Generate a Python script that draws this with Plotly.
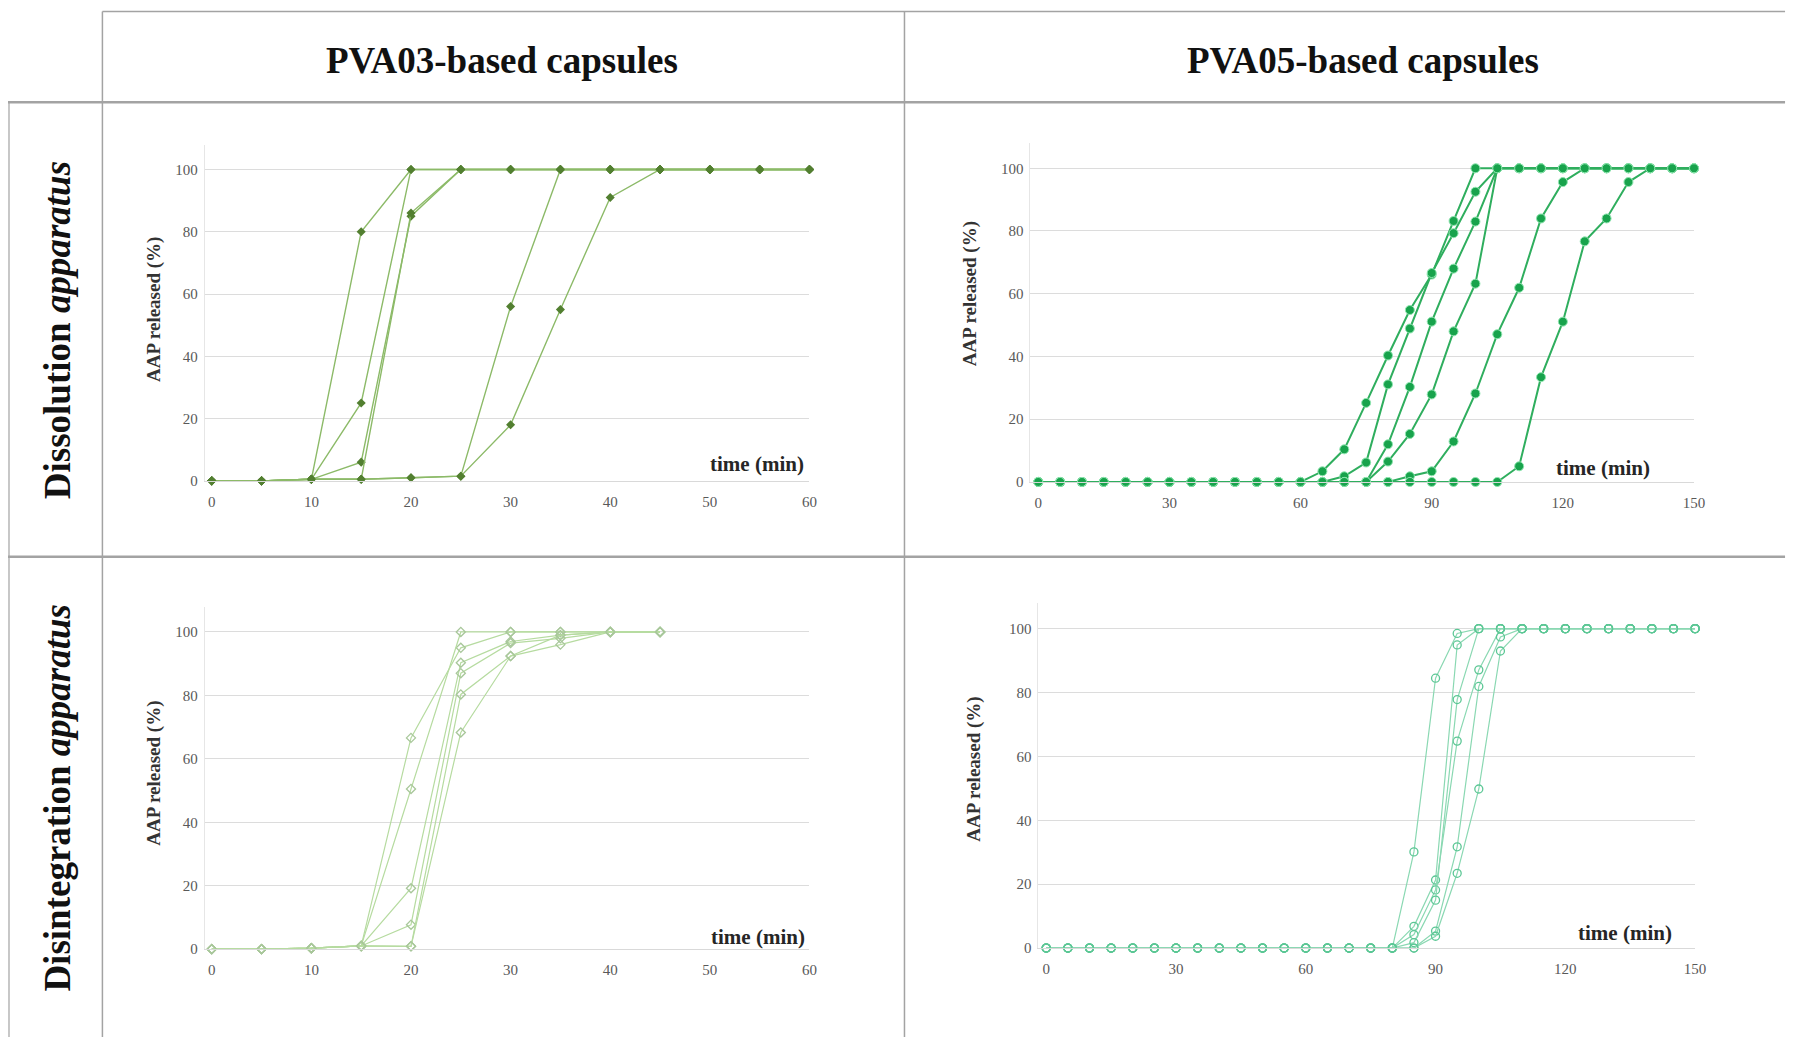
import plotly.graph_objects as go

W, H = 1796, 1045
OFF = 8  # page body margin in the browser

# ---------------- DATA ----------------
t_p03 = [0, 5, 10, 15, 20, 25, 30, 35, 40, 45, 50, 55, 60]
diss_p03 = [
    [0, 0, 0.5, 80, 100, 100, 100, 100, 100, 100, 100, 100, 100],
    [0, 0, 0.5, 25, 100, 100, 100, 100, 100, 100, 100, 100, 100],
    [0, 0, 0.5, 6, 85, 100, 100, 100, 100, 100, 100, 100, 100],
    [0, 0, 0.5, 0.5, 86, 100, 100, 100, 100, 100, 100, 100, 100],
    [0, 0, 0.5, 0.5, 1, 1.5, 56, 100, 100, 100, 100, 100, 100],
    [0, 0, 0.5, 0.5, 1, 1.5, 18, 55, 91, 100, 100, 100, 100],
]

t_p05 = [0, 5, 10, 15, 20, 25, 30, 35, 40, 45, 50, 55, 60, 65, 70, 75, 80, 85, 90,
         95, 100, 105, 110, 115, 120, 125, 130, 135, 140, 145, 150]
diss_p05 = [
    [0, 0, 0, 0, 0, 0, 0, 0, 0, 0, 0, 0, 0, 3.4, 10.4, 25.2, 40.3, 54.8, 66.1,
     83.2, 100, 100, 100, 100, 100, 100, 100, 100, 100, 100, 100],
    [0, 0, 0, 0, 0, 0, 0, 0, 0, 0, 0, 0, 0, 0, 1.8, 6.2, 31.1, 48.9, 66.6,
     79.3, 92.5, 100, 100, 100, 100, 100, 100, 100, 100, 100, 100],
    [0, 0, 0, 0, 0, 0, 0, 0, 0, 0, 0, 0, 0, 0, 0, 0, 12.0, 30.3, 51.1,
     68.0, 83.0, 100, 100, 100, 100, 100, 100, 100, 100, 100, 100],
    [0, 0, 0, 0, 0, 0, 0, 0, 0, 0, 0, 0, 0, 0, 0, 0, 6.5, 15.3, 27.9,
     48.0, 63.2, 100, 100, 100, 100, 100, 100, 100, 100, 100, 100],
    [0, 0, 0, 0, 0, 0, 0, 0, 0, 0, 0, 0, 0, 0, 0, 0, 0, 1.8, 3.4,
     12.9, 28.2, 47.1, 61.9, 84.0, 95.6, 100, 100, 100, 100, 100, 100],
    [0, 0, 0, 0, 0, 0, 0, 0, 0, 0, 0, 0, 0, 0, 0, 0, 0, 0, 0,
     0, 0, 0, 5.0, 33.4, 51.1, 76.7, 84.0, 95.6, 100, 100, 100],
]

t_p03_dis = [0, 5, 10, 15, 20, 25, 30, 35, 40, 45]
disi_p03 = [
    [0, 0, 0.3, 1, 66.6, 95, 100, 100, 100, 100],
    [0, 0, 0.3, 1, 50.5, 100, 100, 100, 100, 100],
    [0, 0, 0.3, 1, 19.2, 90.3, 97, 99, 100, 100],
    [0, 0, 0.3, 1, 7.7, 87, 96.5, 98, 100, 100],
    [0, 0, 0.3, 1, 0.9, 80.3, 92.4, 96, 100, 100],
    [0, 0, 0.3, 1, 0.9, 68.3, 92.4, 99, 100, 100],
]

disi_p05 = [
    [0, 0, 0, 0, 0, 0, 0, 0, 0, 0, 0, 0, 0, 0, 0, 0, 0, 30.1, 84.5,
     98.5, 100, 100, 100, 100, 100, 100, 100, 100, 100, 100, 100],
    [0, 0, 0, 0, 0, 0, 0, 0, 0, 0, 0, 0, 0, 0, 0, 0, 0, 6.8, 21.3,
     94.9, 100, 100, 100, 100, 100, 100, 100, 100, 100, 100, 100],
    [0, 0, 0, 0, 0, 0, 0, 0, 0, 0, 0, 0, 0, 0, 0, 0, 0, 4.2, 18.2,
     64.8, 87.1, 100, 100, 100, 100, 100, 100, 100, 100, 100, 100],
    [0, 0, 0, 0, 0, 0, 0, 0, 0, 0, 0, 0, 0, 0, 0, 0, 0, 1.7, 15.0,
     77.8, 100, 100, 100, 100, 100, 100, 100, 100, 100, 100, 100],
    [0, 0, 0, 0, 0, 0, 0, 0, 0, 0, 0, 0, 0, 0, 0, 0, 0, 0, 5.3,
     31.7, 81.9, 97.4, 100, 100, 100, 100, 100, 100, 100, 100, 100],
    [0, 0, 0, 0, 0, 0, 0, 0, 0, 0, 0, 0, 0, 0, 0, 0, 0, 0, 3.7,
     23.4, 49.8, 93.0, 100, 100, 100, 100, 100, 100, 100, 100, 100],
]

col_titles = ["PVA03-based capsules", "PVA05-based capsules"]
row_titles = ["<b>Dissolution <i>apparatus</i></b>", "<b>Disintegration <i>apparatus</i></b>"]
y_title = "AAP released (%)"
x_title = "time (min)"
x_ticks_p03 = [0, 10, 20, 30, 40, 50, 60]
x_ticks_p05 = [0, 30, 60, 90, 120, 150]
y_ticks = [0, 20, 40, 60, 80, 100]

# ---------------- LAYOUT HELPERS ----------------
def px(x):
    return (x - OFF) / W

def py(y):
    return 1 - (y - OFF) / H

FONT = "Liberation Serif"
fig = go.Figure()

panels = [
    dict(i=1, xr=[-0.7, 60], xd=(206, 814.4), yd=(484.5, 145.6), xt=x_ticks_p03,
         t=t_p03, data=diss_p03, sym="diamond", msize=7, mcol="#527f30",
         lcol="#8cba68", lw=1.4, mline=None),
    dict(i=2, xr=[-1.8, 150], xd=(1036.7, 1704.4), yd=(485.6, 144.2), xt=x_ticks_p05,
         t=t_p05, data=diss_p05, sym="circle", msize=9, mcol="#18a34c",
         lcol="#2fae5e", lw=2, mline="#8fe6b0"),
    dict(i=3, xr=[-0.7, 60], xd=(206, 814.4), yd=(956.4, 611.2), xt=x_ticks_p03,
         t=t_p03_dis, data=disi_p03, sym="diamond-open", msize=7, mcol="#a8c79a",
         lcol="#b6dba0", lw=1.2, mline=None),
    dict(i=4, xr=[-1.8, 150], xd=(1044.8, 1705.5), yd=(955.3, 607.7), xt=x_ticks_p05,
         t=t_p05, data=disi_p05, sym="circle-open", msize=8, mcol="#5cc795",
         lcol="#8ad8b2", lw=1.2, mline=None),
]

for p in panels:
    i = p["i"]
    xa = "x" if i == 1 else f"x{i}"
    ya = "y" if i == 1 else f"y{i}"
    for series in p["data"]:
        marker = dict(symbol=p["sym"], size=p["msize"], color=p["mcol"])
        if p["mline"]:
            marker["line"] = dict(color=p["mline"], width=1)
        elif "open" in p["sym"]:
            marker["line"] = dict(color=p["mcol"], width=1.3)
        fig.add_trace(go.Scatter(
            x=p["t"], y=series, mode="lines+markers", xaxis=xa, yaxis=ya,
            line=dict(color=p["lcol"], width=p["lw"]), marker=marker,
            cliponaxis=False, showlegend=False, hoverinfo="x+y"))
    xkey = "xaxis" if i == 1 else f"xaxis{i}"
    ykey = "yaxis" if i == 1 else f"yaxis{i}"
    fig.layout[xkey] = dict(
        domain=[px(p["xd"][0]), px(p["xd"][1])], range=p["xr"], anchor=ya,
        tickvals=p["xt"], showgrid=False, zeroline=False,
        showline=True, linecolor="#d9d9d9", linewidth=1,
        ticks="outside", ticklen=7, tickcolor="rgba(0,0,0,0)",
        tickfont=dict(family=FONT, size=15, color="#595959"))
    fig.layout[ykey] = dict(
        domain=[py(p["yd"][0]), py(p["yd"][1])], range=[0, 108], anchor=xa,
        tickvals=y_ticks, showgrid=True, gridcolor="#dcdcdc", gridwidth=1,
        zeroline=False, showline=True, linecolor="#e6e6e6", linewidth=1,
        ticks="outside", ticklen=3, tickcolor="rgba(0,0,0,0)",
        tickfont=dict(family=FONT, size=15, color="#595959"))

annotations = []
for txt, cx in zip(col_titles, [505, 1371]):
    annotations.append(dict(text=f"<b>{txt}</b>", x=px(cx), y=py(61), xref="paper", yref="paper",
                            showarrow=False, xanchor="center", yanchor="middle",
                            font=dict(family=FONT, size=37, color="#111111")))
for txt, cy in zip(row_titles, [333, 804]):
    annotations.append(dict(text=txt, x=px(58), y=py(cy), xref="paper", yref="paper",
                            showarrow=False, xanchor="center", yanchor="middle", textangle=-90,
                            font=dict(family=FONT, size=37, color="#111111")))
for cx, cy in [(154.6, 311.5), (975.9, 295.5), (154.6, 779), (980.5, 775)]:
    annotations.append(dict(text=f"<b>{y_title}</b>", x=px(cx), y=py(cy), xref="paper", yref="paper",
                            showarrow=False, xanchor="center", yanchor="middle", textangle=-90,
                            font=dict(family=FONT, size=19, color="#333333")))
for cx, cy in [(761.7, 467.3), (1612.7, 471.9), (762.8, 943.8), (1634.5, 940.4)]:
    annotations.append(dict(text=f"<b>{x_title}</b>", x=px(cx), y=py(cy), xref="paper", yref="paper",
                            showarrow=False, xanchor="center", yanchor="middle",
                            font=dict(family=FONT, size=21, color="#262626")))

LC = "#a3a3a3"
shapes = []
def hline(y, x0, x1, w=1.5):
    shapes.append(dict(type="line", xref="paper", yref="paper", x0=px(x0), x1=px(x1),
                       y0=py(y), y1=py(y), line=dict(color=LC, width=w)))
def vline(x, y0, y1, w=1.5):
    shapes.append(dict(type="line", xref="paper", yref="paper", x0=px(x), x1=px(x),
                       y0=py(y0), y1=py(y1), line=dict(color=LC, width=w)))

hline(11.5, 103, 1796, 1.5)
hline(103, 8, 1796, 2.5)
hline(561, 8, 1796, 2.5)
vline(103, 11.5, 1045, 1.5)
vline(910, 11.5, 1045, 1.5)
vline(9, 103, 1045, 1.2)

fig.update_layout(
    width=W, height=H, margin=dict(l=0, r=0, t=0, b=0),
    paper_bgcolor="white", plot_bgcolor="white",
    annotations=annotations, shapes=shapes, showlegend=False,
)

fig.write_html("out.html")
